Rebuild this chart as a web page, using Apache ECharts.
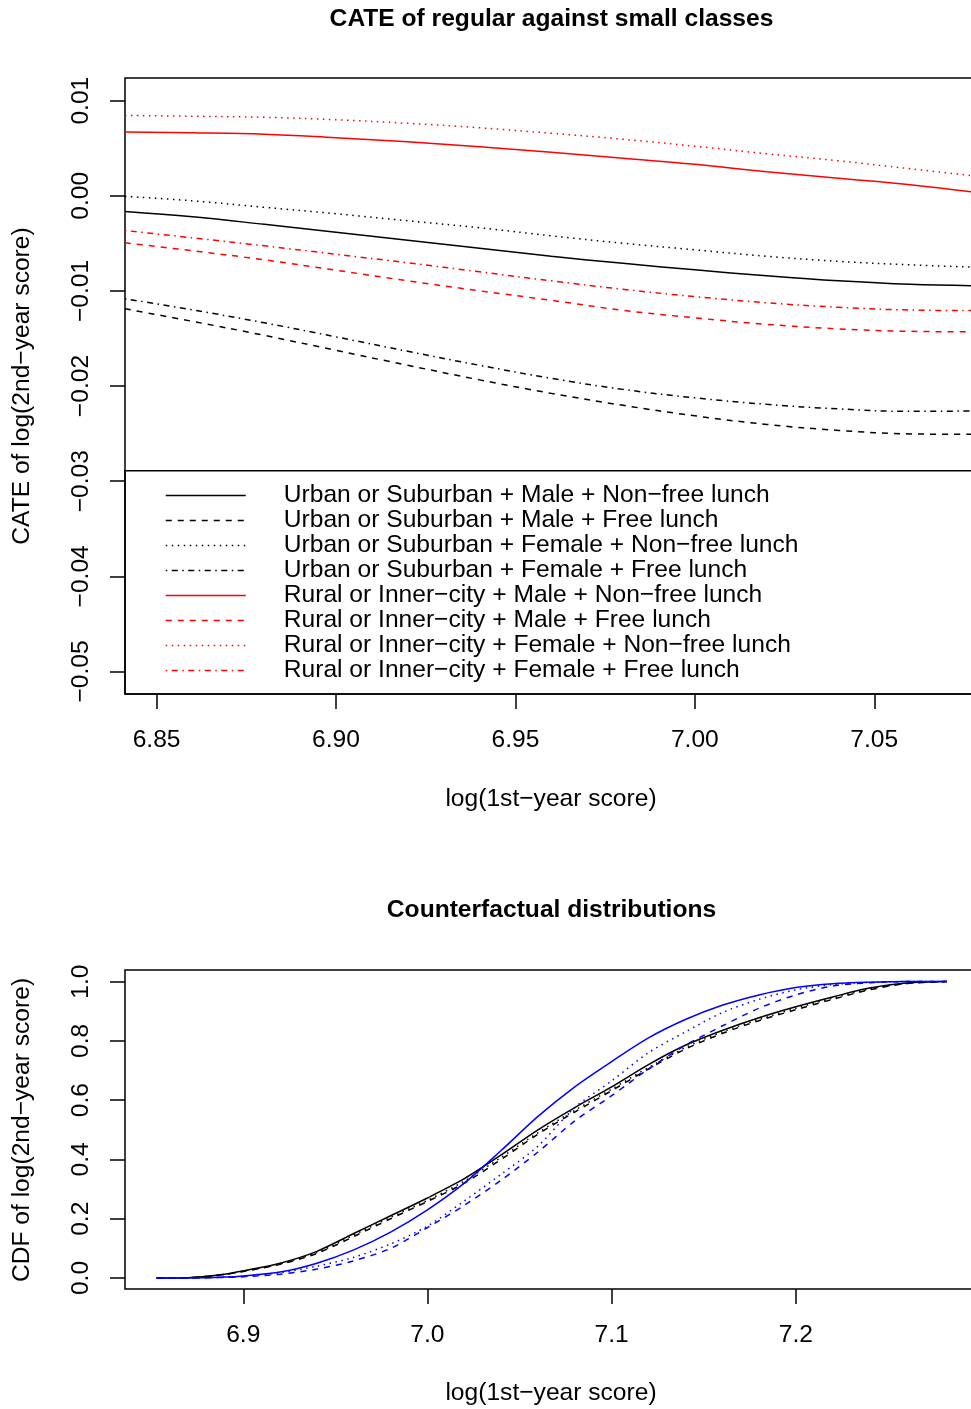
<!DOCTYPE html>
<html>
<head>
<meta charset="utf-8">
<script src="https://cdn.jsdelivr.net/npm/echarts@6/dist/echarts.min.js"></script>
<style>
html,body{margin:0;padding:0;background:#fff;}
#c{width:971px;height:1409px;}
</style>
</head>
<body>
<div id="c"></div>
<script>
// ---------- Top panel data: CATE curves ----------
const cateX = [6.8412, 6.86, 6.88, 6.90, 6.92, 6.94, 6.96, 6.98, 7.00, 7.02, 7.04, 7.06, 7.0789];
const urbMaleNonfree   = [-0.00165,-0.00221,-0.00300,-0.00384,-0.00468,-0.00552,-0.00636,-0.00710,-0.00778,-0.00841,-0.00894,-0.00931,-0.00946];
const urbMaleFree      = [-0.01188,-0.01320,-0.01467,-0.01625,-0.01782,-0.01935,-0.02077,-0.02203,-0.02313,-0.02403,-0.02466,-0.02503,-0.02508];
const urbFemaleNonfree = [-0.00007,-0.00053,-0.00121,-0.00189,-0.00263,-0.00336,-0.00421,-0.00499,-0.00568,-0.00636,-0.00689,-0.00726,-0.00752];
const urbFemaleFree    = [-0.01083,-0.01199,-0.01335,-0.01483,-0.01635,-0.01782,-0.01919,-0.02035,-0.02124,-0.02192,-0.02240,-0.02266,-0.02261];
const rurMaleNonfree   = [0.00670,0.00662,0.00647,0.00610,0.00568,0.00515,0.00457,0.00394,0.00331,0.00252,0.00184,0.00116,0.00032];
const rurMaleFree      = [-0.00494,-0.00578,-0.00673,-0.00783,-0.00894,-0.00999,-0.01099,-0.01204,-0.01283,-0.01351,-0.01399,-0.01425,-0.01430];
const rurFemaleNonfree = [0.00844,0.00836,0.00825,0.00799,0.00762,0.00715,0.00657,0.00594,0.00521,0.00442,0.00368,0.00284,0.00205];
const rurFemaleFree    = [-0.00365,-0.00442,-0.00526,-0.00615,-0.00705,-0.00799,-0.00894,-0.00983,-0.01060,-0.01125,-0.01172,-0.01201,-0.01207];
const legendNames = [
  'Urban or Suburban + Male + Non\u2212free lunch',
  'Urban or Suburban + Male + Free lunch',
  'Urban or Suburban + Female + Non\u2212free lunch',
  'Urban or Suburban + Female + Free lunch',
  'Rural or Inner\u2212city + Male + Non\u2212free lunch',
  'Rural or Inner\u2212city + Male + Free lunch',
  'Rural or Inner\u2212city + Female + Non\u2212free lunch',
  'Rural or Inner\u2212city + Female + Free lunch'
];
const topXTicks = [6.85, 6.90, 6.95, 7.00, 7.05];
const topYTicks = [-0.05, -0.04, -0.03, -0.02, -0.01, 0.00, 0.01];

// ---------- Bottom panel data: counterfactual CDFs ----------
const cdfX = [6.853, 6.87, 6.89, 6.90, 6.92, 6.94, 6.96, 6.98, 7.00, 7.02, 7.04, 7.06, 7.08, 7.10, 7.12, 7.14, 7.16, 7.18, 7.20, 7.22, 7.24, 7.26, 7.282];
const cdfBlackSolid  = [0,0.001,0.013,0.024,0.05,0.09,0.15,0.21,0.27,0.335,0.415,0.5,0.575,0.645,0.72,0.785,0.835,0.878,0.915,0.948,0.978,0.995,1.0];
const cdfBlackDashed = [0,0.001,0.012,0.022,0.046,0.083,0.14,0.2,0.258,0.32,0.4,0.485,0.56,0.632,0.705,0.772,0.825,0.868,0.905,0.94,0.972,0.993,1.0];
const cdfBlackDotted = [0,0.001,0.012,0.023,0.048,0.086,0.145,0.205,0.262,0.327,0.407,0.49,0.566,0.637,0.71,0.777,0.83,0.872,0.91,0.944,0.975,0.994,1.0];
const cdfBlueSolid   = [0,0,0.003,0.007,0.02,0.05,0.095,0.155,0.23,0.32,0.43,0.545,0.645,0.73,0.81,0.872,0.92,0.955,0.98,0.993,0.998,1.0,1.0];
const cdfBlueDashed  = [0,0,0.002,0.004,0.013,0.03,0.058,0.1,0.17,0.245,0.33,0.425,0.53,0.615,0.705,0.785,0.85,0.91,0.955,0.985,0.996,1.0,1.0];
const cdfBlueDotted  = [0,0,0.003,0.006,0.018,0.04,0.07,0.115,0.175,0.26,0.35,0.445,0.575,0.665,0.76,0.83,0.895,0.94,0.972,0.99,0.997,1.0,1.0];
const botXTicks = [6.9, 7.0, 7.1, 7.2];
const botYTicks = [0.0, 0.2, 0.4, 0.6, 0.8, 1.0];

// ---------- styles ----------
const FONT = '"Liberation Sans", Arial, Helvetica, sans-serif';
const FS = 24.6;
const LW = 1.5;
const DASH = [6, 6];
const DOT = [1.5, 4.5];
const DOTDASH = [1.5, 4.5, 6, 4.5];
const RED = '#FF0000', BLACK = '#000000', BLUE = '#0000FF';

function pairs(xs, ys){ return xs.map((x, i) => [x, ys[i]]); }
function minusFmt(d){ return v => v.toFixed(d).replace('-', '\u2212'); }

const topSeriesDefs = [
  [urbMaleNonfree, BLACK, 'solid'],
  [urbMaleFree, BLACK, DASH],
  [urbFemaleNonfree, BLACK, DOT],
  [urbFemaleFree, BLACK, DOTDASH],
  [rurMaleNonfree, RED, 'solid'],
  [rurMaleFree, RED, DASH],
  [rurFemaleNonfree, RED, DOT],
  [rurFemaleFree, RED, DOTDASH]
];
const botSeriesDefs = [
  [cdfBlackSolid, BLACK, 'solid'],
  [cdfBlackDashed, BLACK, DASH],
  [cdfBlackDotted, BLACK, DOT],
  [cdfBlueSolid, BLUE, 'solid'],
  [cdfBlueDashed, BLUE, DASH],
  [cdfBlueDotted, BLUE, DOT]
];

const series = [];
topSeriesDefs.forEach((d, i) => {
  series.push({
    name: legendNames[i], type: 'line', xAxisIndex: 0, yAxisIndex: 0,
    data: pairs(cateX, d[0]), smooth: 0.4, showSymbol: false, symbol: 'none',
    lineStyle: { color: d[1], width: LW, type: d[2] }, itemStyle: { color: d[1] },
    silent: true, animation: false
  });
});
botSeriesDefs.forEach((d, i) => {
  series.push({
    name: 'cdf' + i, type: 'line', xAxisIndex: 1, yAxisIndex: 1,
    data: pairs(cdfX, d[0]), smooth: 0.3, showSymbol: false, symbol: 'none',
    lineStyle: { color: d[1], width: LW, type: d[2] }, itemStyle: { color: d[1] },
    silent: true, animation: false
  });
});

function xAxisCfg(gridIndex, min, max, ticks, dec){
  return {
    type: 'value', gridIndex, min, max, position: 'bottom',
    splitLine: { show: false },
    axisLine: { show: false, onZero: false },
    axisTick: { show: true, inside: false, length: 15, customValues: ticks, lineStyle: { color: BLACK, width: LW } },
    axisLabel: { show: true, customValues: ticks, formatter: minusFmt(dec), margin: 34, color: BLACK, fontFamily: FONT, fontSize: FS }
  };
}
function yAxisCfg(gridIndex, min, max, ticks, dec){
  return {
    type: 'value', gridIndex, min, max, position: 'left',
    splitLine: { show: false },
    axisLine: { show: false, onZero: false },
    axisTick: { show: true, inside: false, length: 15, customValues: ticks, lineStyle: { color: BLACK, width: LW } },
    axisLabel: { show: true, customValues: ticks, formatter: minusFmt(dec), rotate: 90, margin: 31, color: BLACK, fontFamily: FONT, fontSize: FS }
  };
}

function txt(text, x, y, bold, rot){
  return {
    type: 'text', x, y, rotation: rot ? Math.PI / 2 : 0, silent: true,
    style: { text, font: (bold ? 'bold ' : '') + FS + 'px ' + FONT, fill: BLACK,
      textAlign: 'center', textVerticalAlign: 'middle', align: 'center', verticalAlign: 'middle' }
  };
}

const option = {
  animation: false,
  backgroundColor: '#ffffff',
  grid: [
    { left: 125, top: 78, width: 853, height: 616, show: true, borderColor: BLACK, borderWidth: LW, backgroundColor: 'transparent', containLabel: false, outerBoundsMode: 'none' },
    { left: 125, top: 970, width: 853, height: 319, show: true, borderColor: BLACK, borderWidth: LW, backgroundColor: 'transparent', containLabel: false, outerBoundsMode: 'none' }
  ],
  xAxis: [
    xAxisCfg(0, 6.8412, 7.0789, topXTicks, 2),
    xAxisCfg(1, 6.8358, 7.2989, botXTicks, 1)
  ],
  yAxis: [
    yAxisCfg(0, -0.05237, 0.01238, topYTicks, 2),
    yAxisCfg(1, -0.0371, 1.039, botYTicks, 1)
  ],
  legend: {
    show: true, orient: 'vertical', left: 165, top: 483,
    data: legendNames, itemWidth: 80, itemHeight: 25, itemGap: 0,
    selectedMode: false, padding: 0,
    itemStyle: { opacity: 0, borderWidth: 0 },
    lineStyle: { width: LW },
    textStyle: { color: BLACK, fontFamily: FONT, fontSize: FS, lineHeight: 25, padding: [0, 0, 0, 33] }
  },
  graphic: [
    { type: 'rect', shape: { x: 125, y: 470.7, width: 870, height: 223.3 }, style: { stroke: BLACK, lineWidth: LW, fill: 'none' }, silent: true, z: 10 },
    txt('CATE of regular against small classes', 551.5, 19.5, true, false),
    txt('CATE of log(2nd\u2212year score)', 22, 386, false, true),
    txt('log(1st\u2212year score)', 551, 799, false, false),
    txt('Counterfactual distributions', 551.5, 910.5, true, false),
    txt('CDF of log(2nd\u2212year score)', 22, 1130, false, true),
    txt('log(1st\u2212year score)', 551, 1393.5, false, false)
  ],
  series
};

const chart = echarts.init(document.getElementById('c'), null, { renderer: 'canvas' });
chart.setOption(option);
</script>
</body>
</html>
